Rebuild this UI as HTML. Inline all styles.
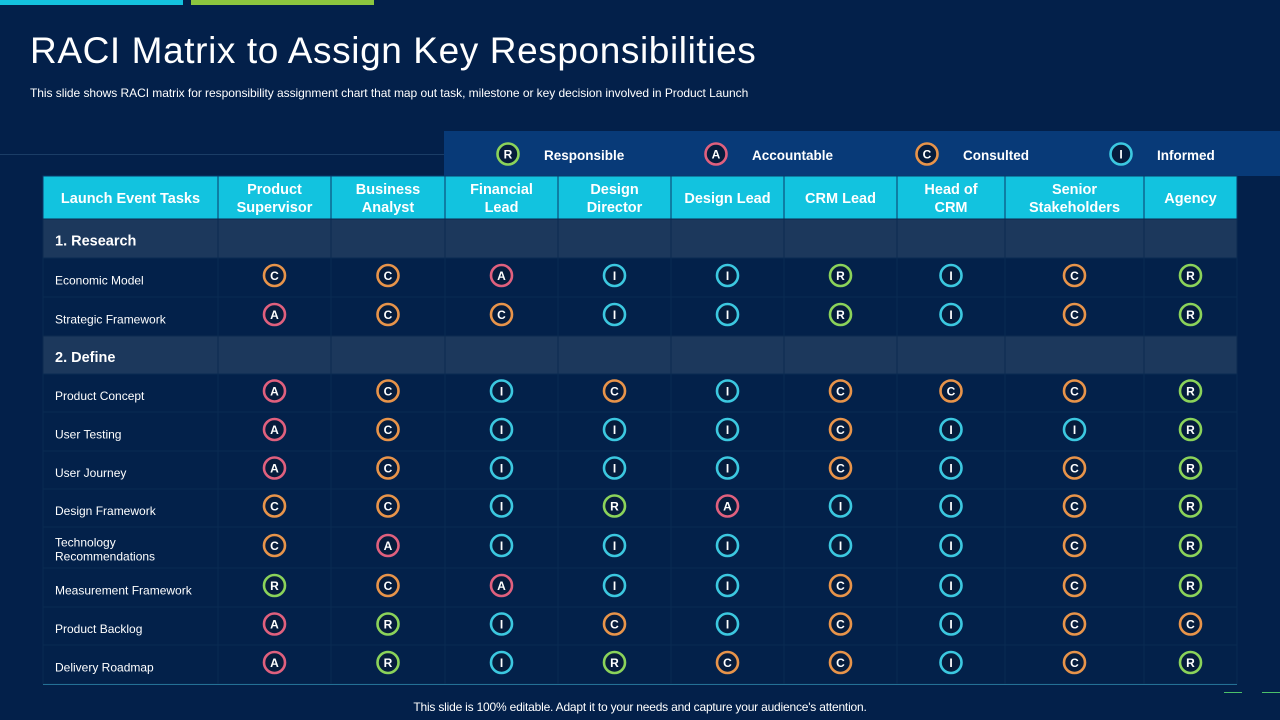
<!DOCTYPE html>
<html><head><meta charset="utf-8"><style>
body{margin:0;width:1280px;height:720px;background:#03204a;overflow:hidden;position:relative;font-family:"Liberation Sans",sans-serif;color:#fff}
.abs{position:absolute}
</style></head><body>
<div class="abs" style="left:0;top:0;width:183px;height:5px;background:#14c2de"></div>
<div class="abs" style="left:191px;top:0;width:183px;height:5px;background:#8cc63f"></div>
<div class="abs" style="left:30px;top:30px;font-size:37px;letter-spacing:0.6px">RACI Matrix to Assign Key Responsibilities</div>
<div class="abs" style="left:30px;top:86px;font-size:12px;letter-spacing:-0.05px">This slide shows RACI matrix for responsibility assignment chart that map out task, milestone or key decision involved in Product Launch</div>
<div class="abs" style="left:0;top:154px;width:444px;height:1px;background:#1b3d66"></div>
<div class="abs" style="left:444px;top:131px;width:836px;height:45px;background:#083a78"></div>
<div class="abs" style="left:43px;top:684px;width:1194px;height:1px;background:#3fb5d8"></div>
<div class="abs" style="left:1224px;top:692px;width:18px;height:1px;background:#4cc06a"></div>
<div class="abs" style="left:1262px;top:692px;width:18px;height:1px;background:#4cc06a"></div>
<div class="abs" style="left:0;width:1280px;top:700px;text-align:center;font-size:12px;letter-spacing:-0.2px">This slide is 100% editable. Adapt it to your needs and capture your audience's attention.</div>
<svg id="chart" class="abs" style="left:0;top:0" width="1280" height="720"></svg>
<script>
const columns=["Launch Event Tasks","Product Supervisor","Business Analyst","Financial Lead","Design Director","Design Lead","CRM Lead","Head of CRM","Senior Stakeholders","Agency"];
const colLines=[["Launch Event Tasks"],["Product","Supervisor"],["Business","Analyst"],["Financial","Lead"],["Design","Director"],["Design Lead"],["CRM Lead"],["Head of","CRM"],["Senior","Stakeholders"],["Agency"]];
const rowLabels=["1. Research","Economic Model","Strategic Framework","2. Define","Product Concept","User Testing","User Journey","Design Framework","Technology Recommendations","Measurement Framework","Product Backlog","Delivery Roadmap"];
const rowValues=[
null,
"CCAIIRICR",
"ACCIIRICR",
null,
"ACICICCCR",
"ACIIICIIR",
"ACIIICICR",
"CCIRAIICR",
"CAIIIIICR",
"RCAIICICR",
"ARICICICC",
"ARIRCCICR"];
const legendKeys=["R","A","C","I"];
const legendNames=["Responsible","Accountable","Consulted","Informed"];
const colors={R:"#8bd35a",A:"#e0607e",C:"#e8944a",I:"#3cc8e0"};
const NS="http://www.w3.org/2000/svg";
const svg=document.getElementById('chart');
const colX=[43,218,331,445,558,671,784,897,1005,1144,1237];
const rowY=[219,258,297,336,374,412,451,489,527,568,607,645,684];
function mk(t,a,p){const e=document.createElementNS(NS,t);for(const k in a)e.setAttribute(k,a[k]);(p||svg).appendChild(e);return e;}
function badge(cx,cy,k){
 const g=mk('g',{});
 
 
 mk('circle',{cx:cx,cy:cy,r:10.5,fill:'#061c3c',stroke:colors[k],'stroke-width':2.6},g);
 const t=mk('text',{x:cx,y:cy+4.5,'text-anchor':'middle','font-size':12,'font-weight':'bold',fill:'#fff','font-family':'Liberation Sans, sans-serif'},g);
 t.textContent=k;
}
for(let c=0;c<columns.length;c++){
 const r=mk('rect',{x:colX[c],y:176,width:colX[c+1]-colX[c],height:43,fill:'#12c3df',stroke:'#0a3a6a','stroke-width':1});
 
 
 const lines=colLines[c];const cx=(colX[c]+colX[c+1])/2;
 lines.forEach((l,i)=>{const t=mk('text',{x:cx,y:(lines.length==1?203:194)+i*18,'text-anchor':'middle','font-size':14.5,'font-weight':'bold',fill:'#fff'});t.textContent=l;
 
 });
}
for(let r=0;r<rowLabels.length;r++){
 const y0=rowY[r],y1=rowY[r+1],cy=(y0+y1)/2;const sec=rowValues[r]===null;
 for(let c=0;c<columns.length;c++){
  const rc=mk('rect',{x:colX[c],y:y0,width:colX[c+1]-colX[c],height:y1-y0,fill:sec?'#1c385c':'#03214a',stroke:sec?'#0c2a50':'#0a2a52','stroke-width':1});
  
  
 }
 const lbl=rowLabels[r];
 if(sec){const t=mk('text',{x:55,y:cy+7,'font-size':14.5,'font-weight':'bold',fill:'#fff'});t.textContent=lbl;
  
  }
 else{
  if(lbl==="Technology Recommendations"){["Technology","Recommendations"].forEach((l,i)=>{const t=mk('text',{x:55,y:cy-1+i*14,'font-size':12,fill:'#fff'});t.textContent=l;
   
   });}
  else{const t=mk('text',{x:55,y:cy+7,'font-size':12,fill:'#fff'});t.textContent=lbl;
   
   }
  for(let c=1;c<columns.length;c++)badge((colX[c]+colX[c+1])/2,cy-2,rowValues[r][c-1]);
 }
}
const legX=[508,716,927,1121];
legendKeys.forEach((k,i)=>{badge(legX[i],154,k);const t=mk('text',{x:legX[i]+36,y:160,'font-size':13.5,'font-weight':'bold',fill:'#fff'});t.textContent=legendNames[i];
 
 });
</script>
</body></html>
